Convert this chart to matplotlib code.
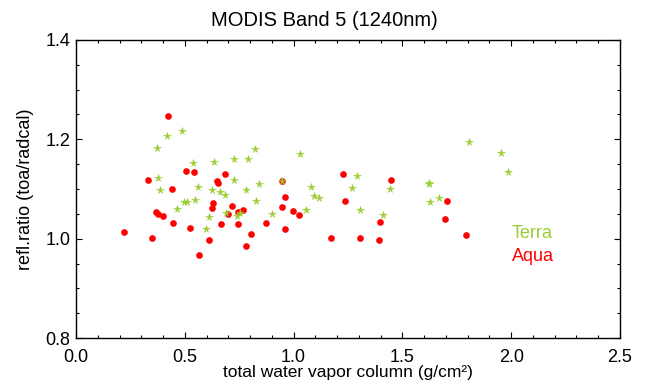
import matplotlib
matplotlib.use("Agg")
import matplotlib.pyplot as plt
from matplotlib.ticker import MultipleLocator

plt.rcParams['font.family'] = ['Liberation Sans', 'DejaVu Sans']

aqua_x = [0.425, 0.331, 0.505, 0.543, 0.684, 0.648, 0.652, 0.439, 0.629, 0.626,
          0.719, 0.767, 0.744, 0.700, 0.367, 0.375, 0.398, 0.448, 0.667, 0.746,
          0.522, 0.222, 0.347, 0.805, 0.611, 0.779, 0.563, 1.228, 0.946, 1.447,
          0.961, 1.236, 1.704, 0.946, 0.998, 1.027, 0.871, 0.960, 1.398, 1.695,
          1.170, 1.306, 1.392, 1.794]
aqua_y = [1.246, 1.119, 1.136, 1.134, 1.131, 1.116, 1.112, 1.100, 1.072, 1.062,
          1.066, 1.058, 1.054, 1.049, 1.054, 1.050, 1.046, 1.031, 1.030, 1.030,
          1.021, 1.013, 1.001, 1.010, 0.997, 0.986, 0.967, 1.130, 1.117, 1.118,
          1.084, 1.075, 1.075, 1.064, 1.055, 1.048, 1.031, 1.020, 1.033, 1.040,
          1.001, 1.002, 0.997, 1.008]

terra_x = [0.487, 0.416, 0.370, 0.824, 0.537, 0.632, 0.726, 0.791, 0.375, 0.727,
           0.843, 0.384, 0.562, 0.625, 0.661, 0.683, 0.781, 0.827, 0.497, 0.510,
           0.549, 0.462, 0.689, 0.752, 0.738, 0.611, 0.597, 1.029, 0.945, 1.292,
           1.081, 1.269, 1.442, 1.620, 1.624, 1.093, 1.116, 1.055, 0.900, 1.307,
           1.410, 1.666, 1.629, 1.807, 1.955, 1.987]
terra_y = [1.217, 1.206, 1.182, 1.180, 1.152, 1.154, 1.160, 1.160, 1.123, 1.119,
           1.111, 1.097, 1.104, 1.098, 1.093, 1.087, 1.097, 1.076, 1.073, 1.073,
           1.078, 1.060, 1.052, 1.052, 1.045, 1.043, 1.020, 1.170, 1.117, 1.126,
           1.105, 1.102, 1.100, 1.113, 1.111, 1.085, 1.081, 1.058, 1.050, 1.058,
           1.048, 1.081, 1.073, 1.194, 1.173, 1.135]

x_ticks = [0.0, 0.5, 1.0, 1.5, 2.0, 2.5]
y_ticks = [0.8, 1.0, 1.2, 1.4]

W, H = 648, 385
fig = plt.figure(figsize=(W / 100, H / 100), dpi=100)
ax = fig.add_axes([76 / W, 1 - 338 / H, 544 / W, 298 / H])

red = '#ff0000'
green = '#9acd32'
ax.plot(aqua_x, aqua_y, linestyle='none', marker='o', markersize=4.8,
        color=red, markeredgewidth=0)
ax.plot(terra_x, terra_y, linestyle='none', marker='*', markersize=5.5,
        color=green, markeredgewidth=0.4)

ax.set_xlim(0, 2.5)
ax.set_ylim(0.8, 1.4)
ax.set_xticks(x_ticks)
ax.set_xticklabels([f"{v:.1f}" for v in x_ticks])
ax.set_yticks(y_ticks)
ax.set_yticklabels([f"{v:.1f}" for v in y_ticks])
ax.xaxis.set_minor_locator(MultipleLocator(0.1))
ax.yaxis.set_minor_locator(MultipleLocator(0.05))

for s in ax.spines.values():
    s.set_linewidth(1.0)
    s.set_color('black')
ax.tick_params(which='both', direction='in', top=True, right=True,
               width=0.8, color='black', labelsize=13)
ax.tick_params(which='major', length=4.5)
ax.tick_params(which='minor', length=2.5)
ax.tick_params(axis='x', pad=8)
ax.tick_params(axis='y', pad=4)

ax.set_xlabel('total water vapor column (g/cm\u00b2)', fontsize=12.5, labelpad=-1)
ax.set_ylabel('refl.ratio (toa/radcal)', fontsize=13, labelpad=8)
fig.text(0.5, 1 - 20 / H, 'MODIS Band 5 (1240nm)', fontsize=14.5,
         ha='center', va='center')

ax.text(0.801, 0.352, 'Terra', color=green, fontsize=13,
        transform=ax.transAxes, ha='left', va='center')
ax.text(0.801, 0.272, 'Aqua', color=red, fontsize=13,
        transform=ax.transAxes, ha='left', va='center')

fig.savefig('out.png', dpi=100)
